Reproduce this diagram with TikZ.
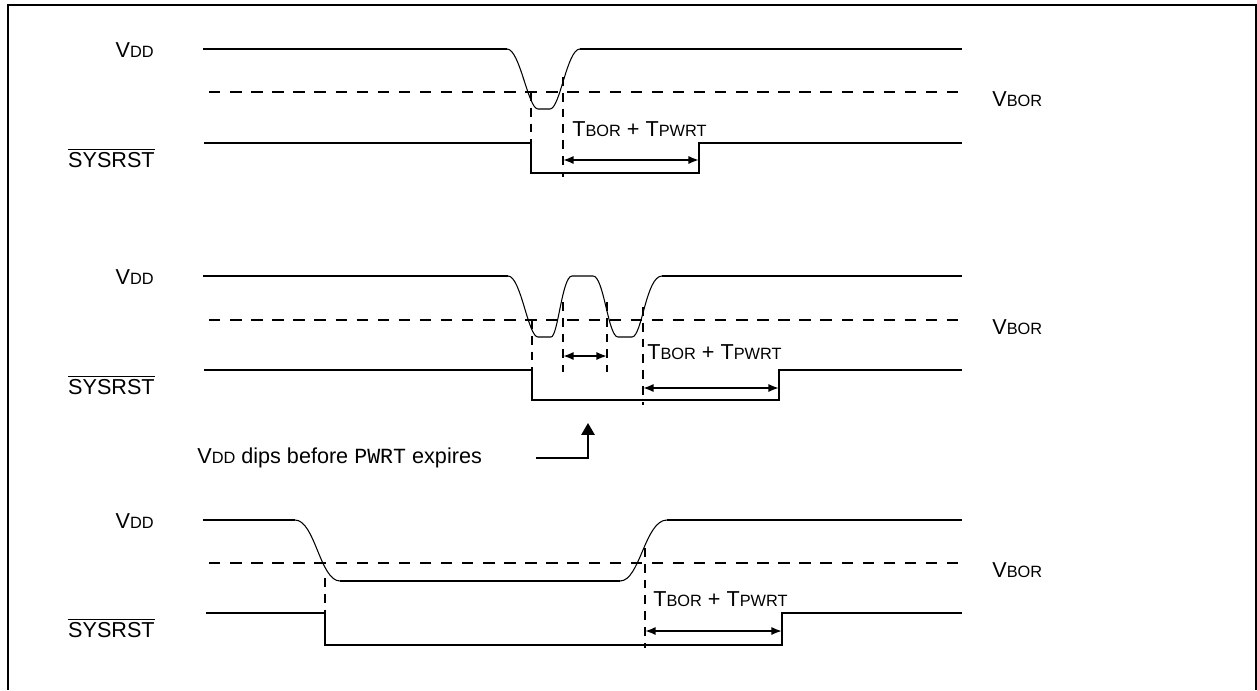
\documentclass[tikz,border=0pt]{standalone}
\usepackage{fontspec}
\setmainfont{Liberation Sans}
\setmonofont{Liberation Mono}
\usetikzlibrary{arrows.meta}

% signal names: big first letter, smaller rest
\newcommand{\sig}[2]{#1{\fontsize{9.3}{11}\selectfont #2}}
\newcommand{\rstbar}{$\overline{\mbox{SYSRST}}$}

\tikzset{
  wave/.style={line width=1.1pt},
  slope/.style={line width=0.6pt},
  borline/.style={line width=1pt, dash pattern=on 6.5pt off 5.5pt},
  marker/.style={line width=0.9pt, dash pattern=on 5pt off 4pt},
  span/.style={line width=1pt, {Latex[length=6pt,width=4.6pt]}-{Latex[length=6pt,width=4.6pt]}},
  pointer/.style={line width=1pt, -{Triangle[length=6.8pt,width=7.6pt]}},
}

\begin{document}
\begin{tikzpicture}[x=0.02cm, y=-0.02cm, every node/.style={font=\fontsize{12.3}{14}\selectfont, inner sep=0pt}]
  \useasboundingbox (0,0) rectangle (1257,690);
  % frame
  \draw[line width=1.1pt] (8,690) -- (8,5) -- (1256,5) -- (1256,690);

  % first case: one short dip
  \node[anchor=base east] (vdd1) at (154,57) {\sig{V}{DD}};
  \node[anchor=base east] (rst1) at (155,167) {\rstbar};
  \node[anchor=base west] (bor1) at (992,106) {\sig{V}{BOR}};
  \draw[borline] (209,92) -- (962,92);
  \draw[wave] (203,49) -- (507,49) (580,49) -- (962,49);
  \draw[slope] (507,49) .. controls (520,49) and (528,109) .. (538,109) -- (550,109)
    .. controls (560,109) and (567,49) .. (580,49);
  \draw[wave] (204,143) -- (531,143) -- (531,173) -- (699,173) -- (699,143) -- (962,143);
  \draw[marker] (531,92) -- (531,173);
  \draw[marker] (563,77) -- (563,177);
  \coordinate (s1a) at (563,160);
  \coordinate (s1b) at (699,160);
  \draw[span] (s1a) -- (s1b);
  \node[anchor=base west] (tw1) at (572,136) {\sig{T}{BOR} + \sig{T}{PWRT}};

  % second case: two dips
  \node[anchor=base east] (vdd2) at (154,284) {\sig{V}{DD}};
  \node[anchor=base east] (rst2) at (155,394) {\rstbar};
  \node[anchor=base west] (bor2) at (992,334) {\sig{V}{BOR}};
  \draw[borline] (209,320) -- (962,320);
  \draw[wave] (203,276) -- (508,276) (662,276) -- (962,276);
  \draw[slope] (508,276) .. controls (521,276) and (528,337) .. (538,337) -- (551,337)
    .. controls (558,337) and (562,276) .. (572,276) -- (593,276)
    .. controls (604,276) and (608,337) .. (618,337) -- (632,337)
    .. controls (642,337) and (646,276) .. (662,276);
  \draw[wave] (204,370) -- (532,370) -- (532,400) -- (779,400) -- (779,370) -- (962,370);
  \draw[marker] (532,320) -- (532,400);
  \draw[marker] (563,302) -- (563,372);
  \draw[marker] (607,302) -- (607,372);
  \draw[marker] (643,307) -- (643,405);
  \coordinate (s2a) at (563,356);
  \coordinate (s2b) at (607,356);
  \draw[span] (s2a) -- (s2b);
  \coordinate (s3a) at (643,388);
  \coordinate (s3b) at (779,388);
  \draw[span] (s3a) -- (s3b);
  \node[anchor=base west] (tw2) at (647,359) {\sig{T}{BOR} + \sig{T}{PWRT}};

  % note
  \node[anchor=base west] (dip) at (197,463) {\sig{V}{DD} dips before \texttt{PWRT} expires};
  \coordinate (dipfrom) at (536,458);
  \coordinate (dipto) at (588,423);
  \draw[pointer] (dipfrom) -| (dipto);

  % third case: long drop
  \node[anchor=base east] (vdd3) at (154,528) {\sig{V}{DD}};
  \node[anchor=base east] (rst3) at (155,637) {\rstbar};
  \node[anchor=base west] (bor3) at (992,577) {\sig{V}{BOR}};
  \draw[borline] (209,563) -- (962,563);
  \draw[wave] (203,520) -- (295,520) (340,581) -- (620,581) (667,520) -- (962,520);
  \draw[slope] (295,520) .. controls (315,520) and (320,581) .. (340,581);
  \draw[slope] (620,581) .. controls (640,581) and (645,520) .. (667,520);
  \draw[wave] (206,613) -- (325,613) -- (325,645) -- (782,645) -- (782,613) -- (962,613);
  \draw[marker] (325,578) -- (325,613);
  \draw[marker] (645,548) -- (645,648);
  \coordinate (s4a) at (645,631);
  \coordinate (s4b) at (782,631);
  \draw[span] (s4a) -- (s4b);
  \node[anchor=base west] (tw3) at (653,606) {\sig{T}{BOR} + \sig{T}{PWRT}};
\end{tikzpicture}
\end{document}
